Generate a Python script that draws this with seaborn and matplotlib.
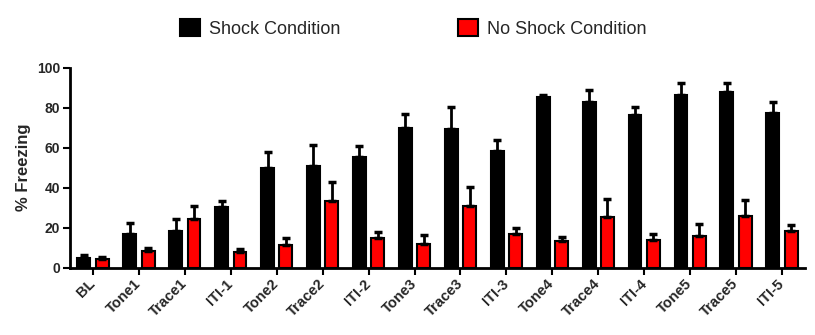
import numpy as np
import pandas as pd
import matplotlib
matplotlib.use("Agg")
import matplotlib.pyplot as plt
import seaborn as sns

phases = ["BL", "Tone1", "Trace1", "ITI-1", "Tone2", "Trace2", "ITI-2", "Tone3",
          "Trace3", "ITI-3", "Tone4", "Trace4", "ITI-4", "Tone5", "Trace5", "ITI-5"]
shock_mean = [4.8, 16.7, 18.5, 30.5, 49.7, 51.0, 55.5, 70.0,
              69.5, 58.5, 85.2, 83.0, 76.3, 86.5, 88.0, 77.5]
shock_sem = [1.6, 5.6, 5.7, 2.8, 8.0, 10.3, 5.3, 6.8,
             10.7, 5.3, 1.3, 5.8, 3.9, 5.7, 4.2, 5.2]
noshock_mean = [4.3, 8.3, 24.3, 8.0, 11.3, 33.3, 15.0, 12.0,
                31.0, 17.0, 13.3, 25.5, 13.8, 15.8, 26.0, 18.3]
noshock_sem = [1.2, 1.4, 6.5, 1.2, 3.4, 9.5, 2.7, 4.3,
               9.3, 2.7, 1.9, 8.8, 3.0, 6.0, 7.7, 3.0]
conditions = ["Shock Condition", "No Shock Condition"]
colors = ["#000000", "#FF0000"]

df = pd.DataFrame({
    "Phase": phases * 2,
    "Condition": [conditions[0]] * len(phases) + [conditions[1]] * len(phases),
    "Freezing": shock_mean + noshock_mean,
})
sems = [shock_sem, noshock_sem]

sns.set_style("ticks")
plt.rcParams["font.family"] = ["Liberation Sans", "DejaVu Sans"]

fig = plt.figure(figsize=(8.15, 3.35), dpi=100)
ax = fig.add_axes([0.0859, 0.2009, 0.9018, 0.5971])

sns.barplot(data=df, x="Phase", y="Freezing", hue="Condition",
            hue_order=conditions, order=phases, palette=colors,
            errorbar=None, gap=0.3, edgecolor="black", linewidth=1.5,
            saturation=1, ax=ax)

bar_conts = list(ax.containers)
for cont, err in zip(bar_conts, sems):
    xs = [p.get_x() + p.get_width() / 2 for p in cont.patches]
    hs = [p.get_height() for p in cont.patches]
    ax.errorbar(xs, hs, yerr=[np.zeros(len(err)), err], fmt="none",
                ecolor="black", elinewidth=2, capsize=3, capthick=2.5, zorder=1)

ax.set_xlim(-0.5, 15.5)
ax.set_ylim(0, 100)
ax.set_yticks([0, 20, 40, 60, 80, 100])
ax.set_xlabel("")
ax.set_ylabel("% Freezing", fontsize=12, fontweight="bold", labelpad=4)
for s in ["top", "right"]:
    ax.spines[s].set_visible(False)
for s in ["left", "bottom"]:
    ax.spines[s].set_linewidth(2)
    ax.spines[s].set_color("black")
ax.tick_params(axis="both", width=1.5, length=5, color="black")
ax.tick_params(axis="y", labelsize=10, pad=2)
ax.tick_params(axis="x", labelsize=10.5, pad=5)
for lab in ax.get_yticklabels():
    lab.set_fontweight("bold")
for lab in ax.get_xticklabels():
    lab.set_fontweight("bold")
    lab.set_rotation(45)
    lab.set_ha("right")
    lab.set_va("center")
    lab.set_rotation_mode("anchor")

leg = ax.get_legend()
if leg is not None:
    leg.remove()
handles = [c.patches[0] for c in bar_conts]
fig.legend(handles, conditions, loc="center", bbox_to_anchor=(0.507, 0.916),
           ncol=2, frameon=False, fontsize=13, handlelength=1.1,
           handleheight=1.1, handletextpad=0.5, columnspacing=6.5)

fig.savefig("out.png", dpi=100)
